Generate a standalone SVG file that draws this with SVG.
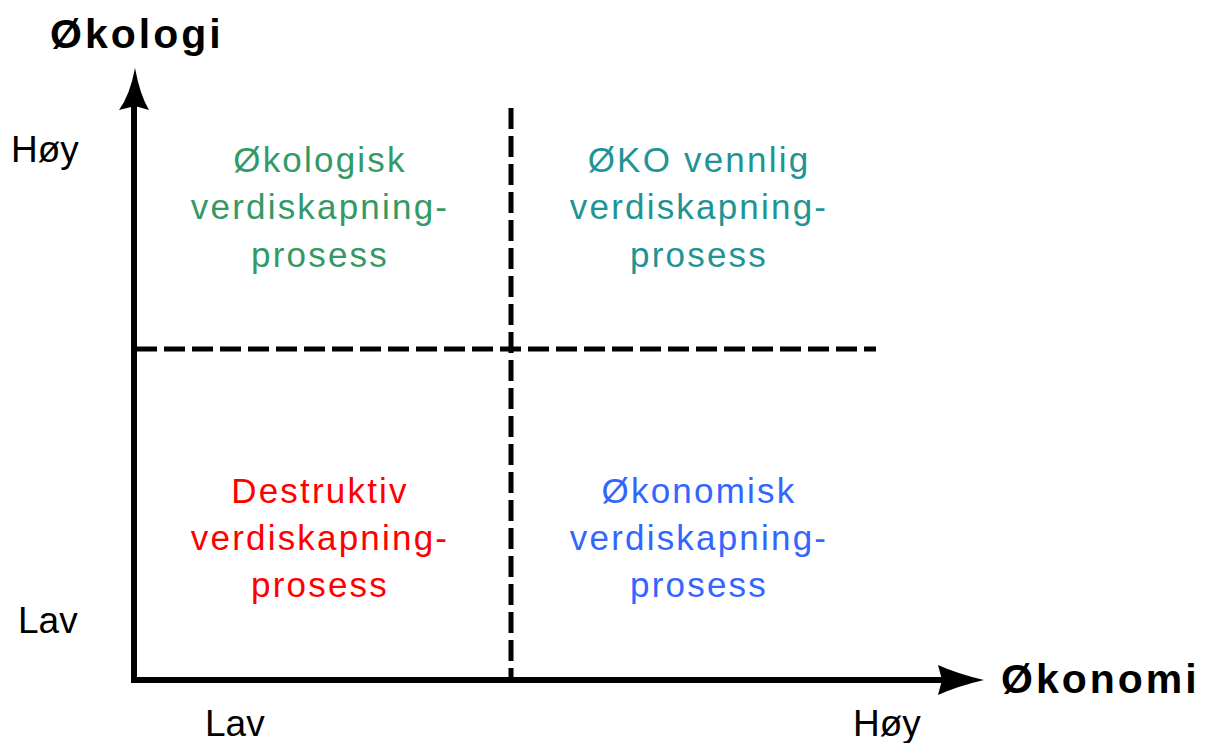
<svg xmlns="http://www.w3.org/2000/svg" width="1218" height="743" viewBox="0 0 1218 743">
<style>
.ax{font-family:"Liberation Sans",Arial,sans-serif;font-size:37px;fill:#000}
.title{font-family:"Liberation Sans",Arial,sans-serif;font-size:41px;font-weight:bold;fill:#000;letter-spacing:3px}
.q{font-family:"Liberation Sans",Arial,sans-serif;font-size:35px;letter-spacing:2.2px;text-anchor:middle}
.axis{stroke:#000;stroke-width:6;fill:none}
.dash{stroke:#000;stroke-width:5;fill:none;stroke-dasharray:21 7}
</style>
<rect width="1218" height="743" fill="#fff"/>
<g id="connectors">
<line class="dash" x1="511" y1="108" x2="511" y2="680"/>
<line class="dash" x1="136" y1="349" x2="876" y2="349"/>
<line class="axis" x1="134" y1="682" x2="134" y2="100"/>
<line class="axis" x1="131" y1="680" x2="950" y2="680"/>
<path d="M135,68 Q140,95 149,110 L135,106 L119,110 Q130,95 135,68 Z" fill="#000"/>
<path d="M984,680 Q958,674 938,665 L942,680 L938,695 Q958,686 984,680 Z" fill="#000"/>
</g>
<g id="y-axis-label"><text class="title" x="50" y="48">Økologi</text></g>
<g id="x-axis-label"><text class="title" x="1001" y="693">Økonomi</text></g>
<g id="y-high"><text class="ax" x="11" y="162">Høy</text></g>
<g id="y-low"><text class="ax" x="18" y="633">Lav</text></g>
<g id="x-low"><text class="ax" x="205" y="736">Lav</text></g>
<g id="x-high"><text class="ax" x="853" y="736">Høy</text></g>
<g id="q-top-left">
<text class="q" x="320" y="172" fill="#339966">Økologisk</text>
<text class="q" x="320" y="219" fill="#339966">verdiskapning-</text>
<text class="q" x="320" y="267" fill="#339966">prosess</text>
</g>
<g id="q-top-right">
<text class="q" x="699" y="172" fill="#1f9494">ØKO vennlig</text>
<text class="q" x="699" y="219" fill="#1f9494">verdiskapning-</text>
<text class="q" x="699" y="267" fill="#1f9494">prosess</text>
</g>
<g id="q-bottom-left">
<text class="q" x="320" y="503" fill="#ff0000">Destruktiv</text>
<text class="q" x="320" y="550" fill="#ff0000">verdiskapning-</text>
<text class="q" x="320" y="597" fill="#ff0000">prosess</text>
</g>
<g id="q-bottom-right">
<text class="q" x="699" y="503" fill="#3366ff">Økonomisk</text>
<text class="q" x="699" y="550" fill="#3366ff">verdiskapning-</text>
<text class="q" x="699" y="597" fill="#3366ff">prosess</text>
</g>
</svg>
